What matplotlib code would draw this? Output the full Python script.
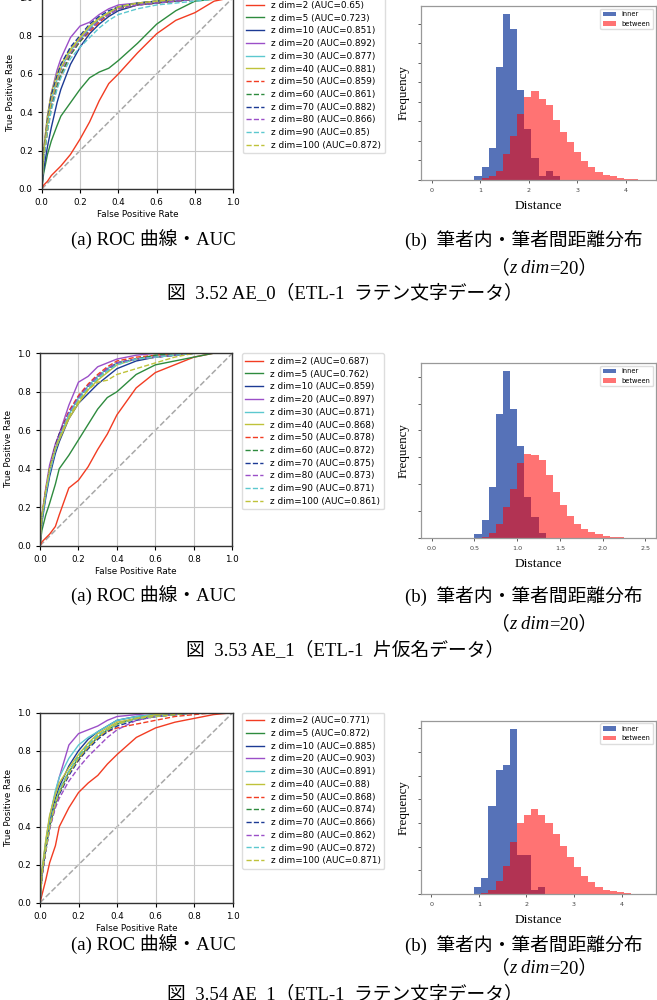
import numpy as np
import matplotlib.pyplot as plt

plt.rcParams['font.family'] = ['DejaVu Sans']

# ---- data ----
z_dims = [2, 5, 10, 20, 30, 40, 50, 60, 70, 80, 90, 100]
fpr_grid = [0, 0.01, 0.03, 0.05, 0.08, 0.1, 0.15, 0.2, 0.25, 0.3, 0.35, 0.4, 0.5, 0.6, 0.7, 0.8, 0.9, 1.0]

# AE_0 latin
auc_1 = [0.65, 0.723, 0.851, 0.892, 0.877, 0.881, 0.859, 0.861, 0.882, 0.866, 0.85, 0.872]
tpr_1 = [
    [0, 0.02, 0.04, 0.07, 0.10, 0.12, 0.18, 0.26, 0.35, 0.46, 0.55, 0.60, 0.71, 0.81, 0.88, 0.92, 0.98, 1.0],
    [0, 0.08, 0.18, 0.25, 0.33, 0.38, 0.45, 0.52, 0.58, 0.61, 0.63, 0.67, 0.76, 0.86, 0.93, 0.98, 0.99, 1.0],
    [0, 0.10, 0.22, 0.32, 0.45, 0.52, 0.65, 0.74, 0.81, 0.86, 0.90, 0.93, 0.96, 0.97, 0.98, 0.99, 1.0, 1.0],
    [0, 0.20, 0.38, 0.50, 0.62, 0.68, 0.79, 0.85, 0.87, 0.91, 0.94, 0.96, 0.97, 0.98, 0.99, 1.0, 1.0, 1.0],
    [0, 0.18, 0.34, 0.46, 0.57, 0.63, 0.72, 0.78, 0.84, 0.89, 0.92, 0.95, 0.97, 0.98, 0.99, 1.0, 1.0, 1.0],
    [0, 0.20, 0.38, 0.50, 0.60, 0.65, 0.73, 0.79, 0.85, 0.89, 0.92, 0.95, 0.97, 0.98, 0.99, 1.0, 1.0, 1.0],
    [0, 0.15, 0.30, 0.42, 0.53, 0.59, 0.70, 0.77, 0.82, 0.87, 0.91, 0.94, 0.96, 0.97, 0.98, 0.99, 1.0, 1.0],
    [0, 0.16, 0.31, 0.43, 0.54, 0.60, 0.70, 0.77, 0.83, 0.88, 0.91, 0.94, 0.96, 0.97, 0.98, 0.99, 1.0, 1.0],
    [0, 0.19, 0.36, 0.49, 0.59, 0.65, 0.74, 0.80, 0.86, 0.90, 0.93, 0.95, 0.97, 0.98, 0.99, 1.0, 1.0, 1.0],
    [0, 0.17, 0.33, 0.45, 0.56, 0.62, 0.71, 0.78, 0.83, 0.88, 0.91, 0.94, 0.96, 0.97, 0.98, 0.99, 1.0, 1.0],
    [0, 0.15, 0.30, 0.41, 0.52, 0.58, 0.68, 0.74, 0.79, 0.84, 0.88, 0.91, 0.94, 0.96, 0.97, 0.98, 0.99, 1.0],
    [0, 0.18, 0.34, 0.46, 0.57, 0.63, 0.72, 0.79, 0.85, 0.89, 0.92, 0.95, 0.97, 0.98, 0.99, 1.0, 1.0, 1.0],
]
# AE_1 katakana
auc_2 = [0.687, 0.762, 0.859, 0.897, 0.871, 0.868, 0.878, 0.872, 0.875, 0.873, 0.871, 0.861]
tpr_2 = [
    [0, 0.02, 0.04, 0.06, 0.10, 0.16, 0.30, 0.34, 0.41, 0.50, 0.58, 0.68, 0.82, 0.90, 0.94, 0.98, 1.0, 1.0],
    [0, 0.08, 0.16, 0.22, 0.32, 0.40, 0.47, 0.55, 0.63, 0.71, 0.77, 0.80, 0.89, 0.94, 0.96, 0.98, 1.0, 1.0],
    [0, 0.12, 0.25, 0.36, 0.48, 0.54, 0.66, 0.74, 0.79, 0.84, 0.88, 0.92, 0.96, 0.98, 0.99, 1.0, 1.0, 1.0],
    [0, 0.16, 0.30, 0.42, 0.53, 0.58, 0.73, 0.85, 0.88, 0.93, 0.95, 0.97, 0.99, 1.0, 1.0, 1.0, 1.0, 1.0],
    [0, 0.14, 0.27, 0.38, 0.50, 0.56, 0.68, 0.77, 0.83, 0.88, 0.92, 0.95, 0.97, 0.99, 1.0, 1.0, 1.0, 1.0],
    [0, 0.15, 0.28, 0.39, 0.50, 0.55, 0.66, 0.74, 0.81, 0.86, 0.90, 0.94, 0.97, 0.98, 0.99, 1.0, 1.0, 1.0],
    [0, 0.15, 0.29, 0.40, 0.52, 0.58, 0.70, 0.78, 0.84, 0.89, 0.93, 0.96, 0.98, 0.99, 1.0, 1.0, 1.0, 1.0],
    [0, 0.14, 0.28, 0.39, 0.51, 0.57, 0.68, 0.76, 0.82, 0.87, 0.91, 0.95, 0.97, 0.99, 1.0, 1.0, 1.0, 1.0],
    [0, 0.15, 0.28, 0.40, 0.52, 0.58, 0.69, 0.77, 0.83, 0.88, 0.92, 0.95, 0.97, 0.98, 0.99, 1.0, 1.0, 1.0],
    [0, 0.15, 0.28, 0.39, 0.51, 0.57, 0.69, 0.77, 0.83, 0.88, 0.92, 0.95, 0.97, 0.98, 0.99, 1.0, 1.0, 1.0],
    [0, 0.14, 0.27, 0.38, 0.50, 0.56, 0.68, 0.76, 0.82, 0.87, 0.91, 0.94, 0.97, 0.98, 0.99, 1.0, 1.0, 1.0],
    [0, 0.16, 0.29, 0.40, 0.51, 0.56, 0.67, 0.75, 0.81, 0.85, 0.86, 0.89, 0.92, 0.95, 0.98, 1.0, 1.0, 1.0],
]
# AE_1 latin
auc_3 = [0.771, 0.872, 0.885, 0.903, 0.891, 0.88, 0.868, 0.874, 0.866, 0.862, 0.872, 0.871]
tpr_3 = [
    [0, 0.04, 0.12, 0.21, 0.30, 0.40, 0.50, 0.58, 0.63, 0.67, 0.73, 0.78, 0.87, 0.92, 0.95, 0.97, 0.99, 1.0],
    [0, 0.14, 0.28, 0.40, 0.52, 0.58, 0.69, 0.76, 0.82, 0.87, 0.91, 0.94, 0.97, 0.98, 0.99, 1.0, 1.0, 1.0],
    [0, 0.15, 0.30, 0.43, 0.55, 0.61, 0.72, 0.80, 0.86, 0.90, 0.93, 0.96, 0.98, 0.99, 1.0, 1.0, 1.0, 1.0],
    [0, 0.16, 0.32, 0.45, 0.58, 0.66, 0.83, 0.89, 0.91, 0.93, 0.96, 0.98, 0.99, 1.0, 1.0, 1.0, 1.0, 1.0],
    [0, 0.16, 0.32, 0.45, 0.59, 0.66, 0.76, 0.83, 0.87, 0.90, 0.93, 0.96, 0.98, 0.99, 1.0, 1.0, 1.0, 1.0],
    [0, 0.17, 0.33, 0.46, 0.57, 0.63, 0.71, 0.78, 0.84, 0.89, 0.92, 0.95, 0.97, 0.99, 1.0, 1.0, 1.0, 1.0],
    [0, 0.14, 0.28, 0.40, 0.52, 0.58, 0.68, 0.75, 0.82, 0.87, 0.90, 0.92, 0.94, 0.96, 0.98, 0.99, 1.0, 1.0],
    [0, 0.15, 0.29, 0.41, 0.53, 0.59, 0.69, 0.77, 0.83, 0.88, 0.91, 0.94, 0.97, 0.98, 0.99, 1.0, 1.0, 1.0],
    [0, 0.14, 0.27, 0.39, 0.51, 0.57, 0.67, 0.75, 0.81, 0.86, 0.90, 0.93, 0.96, 0.98, 0.99, 1.0, 1.0, 1.0],
    [0, 0.14, 0.27, 0.39, 0.50, 0.55, 0.64, 0.71, 0.77, 0.82, 0.87, 0.91, 0.96, 0.98, 0.99, 1.0, 1.0, 1.0],
    [0, 0.15, 0.29, 0.41, 0.53, 0.59, 0.69, 0.77, 0.83, 0.88, 0.91, 0.94, 0.97, 0.98, 0.99, 1.0, 1.0, 1.0],
    [0, 0.15, 0.28, 0.40, 0.52, 0.58, 0.68, 0.76, 0.82, 0.87, 0.91, 0.94, 0.97, 0.98, 0.99, 1.0, 1.0, 1.0],
]

# distance histograms (30 bins, counts in arbitrary units)
hist_range_1 = (0, 4.4)
inner_1 = [0, 0, 0, 0, 0, 0, 13, 40, 96, 338, 496, 453, 268, 153, 65, 13, 26, 12,
           0, 0, 0, 0, 0, 0, 0, 0, 0, 0, 0, 0]
between_1 = [0, 0, 0, 0, 0, 0, 0, 5, 11, 26, 78, 133, 198, 248, 265, 243, 223, 181,
             143, 113, 83, 58, 38, 23, 16, 11, 7, 4, 2, 1]
hist_range_2 = (0, 2.5)
inner_2 = [0, 0, 0, 0, 0, 0, 13, 55, 152, 372, 499, 387, 276, 122, 63, 14, 0, 0,
           0, 0, 0, 0, 0, 0, 0, 0, 0, 0, 0, 0]
between_2 = [0, 0, 0, 0, 0, 0, 0, 3, 14, 42, 94, 146, 226, 250, 248, 233, 188, 138,
             98, 65, 43, 28, 18, 11, 7, 4, 2, 1, 0, 0]
hist_range_3 = (0, 4.5)
inner_3 = [0, 0, 0, 0, 0, 0, 22, 49, 263, 370, 385, 493, 117, 117, 12, 22, 0, 0,
           0, 0, 0, 0, 0, 0, 0, 0, 0, 0, 0, 0]
between_3 = [0, 0, 0, 0, 0, 0, 0, 3, 12, 38, 85, 155, 212, 235, 253, 235, 212, 180,
             143, 112, 80, 55, 35, 22, 13, 8, 5, 3, 1, 0]

captions = [
    '図  3.52 AE_0（ETL-1  ラテン文字データ）',
    '図  3.53 AE_1（ETL-1  片仮名データ）',
    '図  3.54 AE_1（ETL-1  ラテン文字データ）',
]

line_colors = ['#f23c22', '#2e8b3e', '#1c3a94', '#9b4fc8', '#5cc8cf', '#bfc23a'] * 2
line_styles = ['-'] * 6 + ['--'] * 6
INNER_C = '#5672b8'
SERIF = ['Liberation Serif', 'Noto Sans CJK JP']
CAP_FS = 13.5

W, H = 657, 1000
fig = plt.figure(figsize=(W / 100, H / 100), dpi=100)
renderer = fig.canvas.get_renderer()


def px_axes(l, t, r, b):
    return fig.add_axes([l / W, 1 - b / H, (r - l) / W, (b - t) / H])


def chain_text(xc, y, parts):
    # lay text pieces side by side on one baseline, centred on xc (pixels)
    items = []
    for s, kw in parts:
        t = fig.text(0, 1 - y / H, s, va='baseline', ha='left', **kw)
        items.append((t, t.get_window_extent(renderer).width))
    x = xc - sum(w for _, w in items) / 2
    for t, w in items:
        t.set_x(x / W)
        x += w


def draw_roc(ax, tprs, aucs):
    for dim, tpr, auc, c, ls in zip(z_dims, tprs, aucs, line_colors, line_styles):
        ax.plot(fpr_grid, tpr, color=c, ls=ls, lw=1.0, label=f'z dim={dim} (AUC={auc})')
    ax.plot([0, 1], [0, 1], color='#a8a8a8', ls='--', lw=1.1, zorder=1)
    ax.set_xlim(0, 1)
    ax.set_ylim(0, 1)
    ticks = np.arange(0, 1.01, 0.2)
    ax.set_xticks(ticks)
    ax.set_yticks(ticks)
    ax.tick_params(labelsize=6.3, length=3, width=0.8)
    ax.grid(True, color='#c8c8c8', lw=0.8)
    for s in ax.spines.values():
        s.set_color('#333333')
        s.set_linewidth(1.0)
    ax.set_xlabel('False Positive Rate', fontsize=6.3, labelpad=2)
    ax.set_ylabel('True Positive Rate', fontsize=6.3, labelpad=3)
    ax.legend(loc='upper left', bbox_to_anchor=(1.05, 1.0), fontsize=6.4,
              labelspacing=0.42, borderaxespad=0, framealpha=1, edgecolor='#dddddd')


def draw_hist(ax, hrange, inner, between, tick_step):
    edges = np.linspace(hrange[0], hrange[1], len(inner) + 1)
    centers = (edges[:-1] + edges[1:]) / 2
    ax.hist(centers, bins=edges, weights=inner, color=INNER_C, label='inner')
    ax.hist(centers, bins=edges, weights=between, color='red', alpha=0.55, label='between')
    span = hrange[1] - hrange[0]
    ax.set_xlim(hrange[0] - 0.05 * span, hrange[1] + 0.05 * span)
    top = max(max(inner), max(between)) * 1.05
    ax.set_ylim(0, top)
    ax.set_yticks(np.arange(0, top, tick_step))
    ax.set_yticklabels([])
    ax.tick_params(labelsize=4.6, length=2.5, width=0.6, colors='#444444')
    for s in ax.spines.values():
        s.set_color('#999999')
        s.set_linewidth(0.9)
    ax.set_xlabel('Distance', family=SERIF, fontsize=9.7)
    ax.xaxis.set_label_coords(0.5, -20 / 174)
    ax.set_ylabel('Frequency', family=SERIF, fontsize=9.4)
    ax.yaxis.set_label_coords(-11 / 235, 0.5)
    ax.legend(loc='upper right', fontsize=4.8, framealpha=1, edgecolor='#dddddd',
              borderaxespad=0.4, handlelength=2.0)


rows = [
    dict(roc=(41.7, -2.7, 233.3, 189), hist=(421, 6, 656, 180), tpr=tpr_1, auc=auc_1,
         hr=hist_range_1, inner=inner_1, between=between_1, step=58.5, ys=(240, 268, 293)),
    dict(roc=(40, 353.3, 232.3, 545.7), hist=(421, 363, 656, 538), tpr=tpr_2, auc=auc_2,
         hr=hist_range_2, inner=inner_2, between=between_2, step=80.5, ys=(596, 624, 650)),
    dict(roc=(40, 712.7, 232.7, 902.7), hist=(420.7, 720.7, 656, 894), tpr=tpr_3, auc=auc_3,
         hr=hist_range_3, inner=inner_3, between=between_3, step=70.7, ys=(945, 968, 994)),
]

for row, cap in zip(rows, captions):
    ax1 = px_axes(*row['roc'])
    draw_roc(ax1, row['tpr'], row['auc'])
    ax2 = px_axes(*row['hist'])
    draw_hist(ax2, row['hr'], row['inner'], row['between'], row['step'])
    ya, yz, yf = row['ys']
    fig.text(153 / W, 1 - ya / H, '(a) ROC 曲線・AUC', family=SERIF, fontsize=CAP_FS,
             ha='center', va='center')
    fig.text(405 / W, 1 - ya / H, '(b)  筆者内・筆者間距離分布', family=SERIF, fontsize=CAP_FS,
             ha='left', va='center')
    chain_text(544, yz + 5, [
        ('（', dict(family=SERIF, fontsize=CAP_FS)),
        ('z dim', dict(family=SERIF, fontsize=CAP_FS, style='italic')),
        ('=20）', dict(family=SERIF, fontsize=CAP_FS)),
    ])
    fig.text(345 / W, 1 - yf / H, cap, family=SERIF, fontsize=CAP_FS,
             ha='center', va='center')

fig.savefig('out.png', dpi=100)
